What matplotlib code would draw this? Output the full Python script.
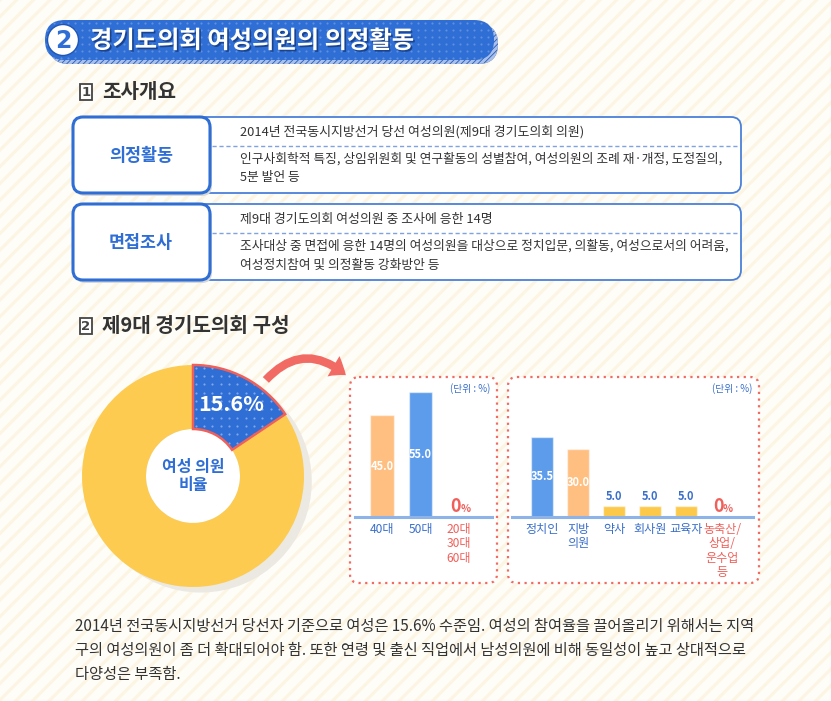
import math
import matplotlib
matplotlib.use('Agg')
import matplotlib.pyplot as plt
import matplotlib.patheffects as pe
import numpy as np
from matplotlib.patches import FancyBboxPatch, Rectangle, Circle, FancyArrowPatch, Wedge

plt.rcParams['font.family'] = ['Noto Sans CJK KR', 'DejaVu Sans']
plt.rcParams['hatch.linewidth'] = 2.2

# ---- data ----
title = '경기도의회 여성의원의 의정활동'
section1 = '조사개요'
section2 = '제9대 경기도의회 구성'

box_labels = ['의정활동', '면접조사']
box_row1 = ['2014년 전국동시지방선거 당선 여성의원(제9대 경기도의회 의원)',
            '제9대 경기도의회 여성의원 중 조사에 응한 14명']
box_row2 = ['인구사회학적 특징, 상임위원회 및 연구활동의 성별참여, 여성의원의 조례 재·개정, 도정질의,\n5분 발언 등',
            '조사대상 중 면접에 응한 14명의 여성의원을 대상으로 정치입문, 의활동, 여성으로서의 어려움,\n여성정치참여 및 의정활동 강화방안 등']

pie_labels = ['여성', '남성']
pie_values = [15.6, 84.4]
pie_center = '여성 의원\n비율'

age_labels = ['40대', '50대', '20대\n30대\n60대']
age_values = [45.0, 55.0, 0.0]

job_labels = ['정치인', '지방\n의원', '약사', '회사원', '교육자', '농축산/\n상업/\n운수업\n등']
job_values = [35.5, 30.0, 5.0, 5.0, 5.0, 0.0]

unit_text = '(단위 : %)'

summary = ['2014년 전국동시지방선거 당선자 기준으로 여성은 15.6% 수준임. 여성의 참여율을 끌어올리기 위해서는 지역',
           '구의 여성의원이 좀 더 확대되어야 함. 또한 연령 및 출신 직업에서 남성의원에 비해 동일성이 높고 상대적으로',
           '다양성은 부족함.']

# ---- colours ----
BLUE = '#2F6ED4'
BAR_BLUE = '#5D9CEB'
ORANGE = '#FFBF80'
YELLOW = '#FDC94A'
PIE_YELLOW = '#FCCB50'
RED = '#F0605A'
LBL_BLUE = '#3A6FCB'
TXT = '#333333'

W, H = 831, 701
fig = plt.figure(figsize=(W / 100, H / 100), dpi=100)
bg = fig.add_axes([0, 0, 1, 1])
bg.set_xlim(0, W)
bg.set_ylim(H, 0)
bg.axis('off')
bg.add_patch(Rectangle((0, 0), W, H, facecolor='#FFFDF7', edgecolor='#FCF5E4', hatch='//', lw=0))


def px_axes(x0, y0, x1, y1):
    return fig.add_axes([x0 / W, 1 - y1 / H, (x1 - x0) / W, (y1 - y0) / H])


def dots(ax, patch, x0, x1, y0, y1, step, color, size):
    gx, gy = np.meshgrid(np.arange(x0, x1, step), np.arange(y0, y1, step))
    sc = ax.scatter(gx.ravel(), gy.ravel(), s=size, c=color, lw=0, zorder=patch.get_zorder() + 0.1)
    sc.set_clip_path(patch)


# title banner
bg.add_patch(FancyBboxPatch((49, 24), 449, 40, boxstyle='round,pad=0,rounding_size=20',
                            fc='#2A5DB8', ec='#A8C0EA', hatch='//////', lw=0))
pill = FancyBboxPatch((45, 20), 449, 40, boxstyle='round,pad=0,rounding_size=20',
                      fc=BLUE, ec='none', lw=0)
bg.add_patch(pill)
dots(bg, pill, 47, 495, 23, 60, 7, '#5E90E0', 2.5)
bg.add_patch(Circle((63, 40), 15.5, fc='white', ec='#1F56B5', lw=1, zorder=3))
bg.text(63, 41, '2', color=BLUE, fontsize=17, fontweight='bold', ha='center', va='center',
        family='DejaVu Sans', zorder=4)
bg.text(90, 41, title, color='white', fontsize=17.5, fontweight='bold', va='center', zorder=4,
        path_effects=[pe.withSimplePatchShadow(offset=(1.2, -1.2), shadow_rgbFace='#173F88', alpha=0.9)])


def heading(y, num, text):
    bg.add_patch(Rectangle((80, y - 8), 12, 16, fc='white', ec='#444444', lw=1.3))
    bg.text(86, y, num, color='#444444', fontsize=9.5, fontweight='bold', ha='center', va='center',
            family='DejaVu Sans')
    bg.text(102, y, text, color=TXT, fontsize=14.5, fontweight='bold', va='center')


heading(92, '1', section1)
heading(326, '2', section2)

# survey boxes
box_tops = [117, 204]
for i, top in enumerate(box_tops):
    h = 76
    bg.add_patch(FancyBboxPatch((73, top), 668, h, boxstyle='round,pad=0,rounding_size=10',
                                fc='white', ec='#4A80DA', lw=1.3))
    bg.add_patch(FancyBboxPatch((75, top + 3), 137, h, boxstyle='round,pad=0,rounding_size=10',
                                fc='#D8D8D8', ec='none'))
    bg.add_patch(FancyBboxPatch((73, top), 137, h, boxstyle='round,pad=0,rounding_size=10',
                                fc='white', ec=BLUE, lw=2.2))
    bg.text(141, top + h / 2 + 1, box_labels[i], color=BLUE, fontsize=12.5, fontweight='bold',
            ha='center', va='center')
    bg.text(240, top + 15, box_row1[i], color=TXT, fontsize=9.3, va='center')
    bg.plot([212, 739], [top + 29, top + 29], color='#7EA3E0', lw=1, ls=(0, (3, 2)))
    bg.text(240, top + 35, box_row2[i], color=TXT, fontsize=9.2, va='top', linespacing=1.6)

# donut
R_OUT, R_IN = 111, 47
cx, cy = 193, 476
pad = 14
ax_pie = px_axes(cx - R_OUT - pad, cy - R_OUT - pad, cx + R_OUT + pad, cy + R_OUT + pad)
lim = (R_OUT + pad) / R_OUT
ax_pie.add_patch(Circle((0.07, -0.05), 1.0, fc='#ECE9E3', ec='none', zorder=0))
ax_pie.add_patch(Circle((0, 0), R_IN / R_OUT, fc='white', ec='none', zorder=0.5))
wedges, _ = ax_pie.pie(pie_values, colors=[BLUE, PIE_YELLOW], startangle=90, counterclock=False,
                       radius=1, wedgeprops=dict(width=1 - R_IN / R_OUT, linewidth=0))
w0 = wedges[0]
dots(ax_pie, w0, -0.2, 1.0, 0.0, 1.05, 0.075, '#7FA8EA', 2.5)
ax_pie.add_patch(Wedge(w0.center, w0.r, w0.theta1, w0.theta2, width=w0.width,
                       fc='none', ec=RED, lw=1.8, zorder=5))
ax_pie.set_xlim(-lim, lim)
ax_pie.set_ylim(-lim, lim)
ax_pie.set_aspect('auto')
ax_pie.axis('off')
mid = math.radians((w0.theta1 + w0.theta2) / 2)
rm = (1 + R_IN / R_OUT) / 2 + 0.02
ax_pie.text(rm * math.cos(mid), rm * math.sin(mid), f'{pie_values[0]}%', color='white',
            fontsize=15.5, fontweight='bold', ha='center', va='center', zorder=6)
ax_pie.text(0, 0, pie_center, color=BLUE, fontsize=11.5, fontweight='bold', ha='center', va='center',
            linespacing=1.2, zorder=6)

# arrow
bg.add_patch(FancyArrowPatch((264, 382), (348, 377), connectionstyle='arc3,rad=-0.5',
                             arrowstyle='simple,head_length=11,head_width=17,tail_width=6',
                             color='#F26A64', lw=0, mutation_scale=1))

# bar panels
for x0, x1 in [(350, 497), (508, 759)]:
    bg.add_patch(FancyBboxPatch((x0, 377), x1 - x0, 206, boxstyle='round,pad=0,rounding_size=9',
                                fc='white', ec='#F26A64', lw=1.6, ls=(0, (1, 2))))
    bg.text(x1 - 7, 389, unit_text, color=LBL_BLUE, fontsize=7, ha='right', va='center')


def bar_panel(x0, x1, first, step, labels, values, colors, label_colors):
    ax = px_axes(x0, 381, x1, 517)
    ax.set_ylim(0, 60)
    ax.set_xlim(-(first - x0) / step, (x1 - first) / step)
    ax.patch.set_alpha(0)
    for s in ax.spines.values():
        s.set_visible(False)
    xs = list(range(len(values)))
    ax.bar(xs, values, width=0.62, color=colors, edgecolor=[c if c == 'none' else '#FFFFFF80' for c in colors],
           lw=1)
    ax.axhline(0, color='#8DB3E8', lw=2.2, clip_on=False)
    ax.set_yticks([])
    ax.set_xticks(xs, labels)
    ax.tick_params(length=0, pad=4, labelsize=8.7)
    for lbl, c in zip(ax.get_xticklabels(), label_colors):
        lbl.set_color(c)
        lbl.set_linespacing(1.15)
    for x, v in zip(xs, values):
        if v == 0:
            ax.text(x - 0.1, 4.5, '0', color=RED, fontsize=13, fontweight='bold', ha='center', va='center')
            ax.text(x + 0.17, 3.6, '%', color=RED, fontsize=7.5, fontweight='bold', ha='center', va='center')
        elif v >= 15:
            ax.text(x, v / 2, f'{v:.1f}', color='white', fontsize=8, fontweight='bold', ha='center', va='center')
        else:
            ax.text(x, v + 1.2, f'{v:.1f}', color=LBL_BLUE, fontsize=8, fontweight='bold', ha='center', va='bottom')
    return ax


bar_panel(355, 492, 382, 38.5, age_labels, age_values, [ORANGE, BAR_BLUE, 'none'],
          [LBL_BLUE, LBL_BLUE, RED])
bar_panel(512, 753, 542, 36, job_labels, job_values, [BAR_BLUE, ORANGE, YELLOW, YELLOW, YELLOW, 'none'],
          [LBL_BLUE] * 5 + [RED])

# summary text
for i, line in enumerate(summary):
    bg.text(75, 626 + 24.5 * i, line, color=TXT, fontsize=11, va='center')

fig.savefig('out.png', dpi=100)
